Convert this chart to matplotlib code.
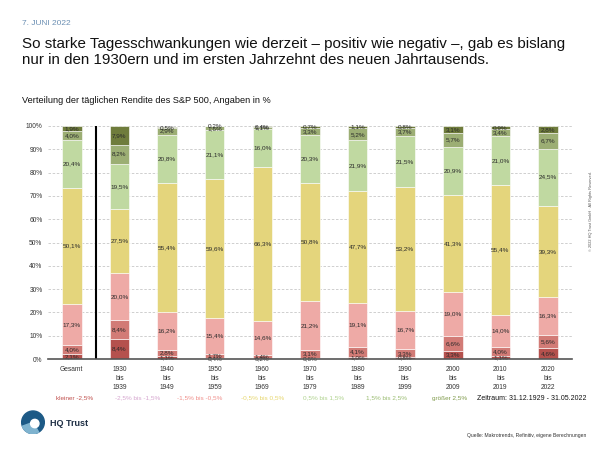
import matplotlib
matplotlib.use("Agg")
import matplotlib.pyplot as plt
import numpy as np
from matplotlib.patches import Circle, Wedge

plt.rcParams['font.family'] = ['Liberation Sans', 'DejaVu Sans']

categories = ["Gesamt", "1930\nbis\n1939", "1940\nbis\n1949", "1950\nbis\n1959", "1960\nbis\n1969",
              "1970\nbis\n1979", "1980\nbis\n1989", "1990\nbis\n1999", "2000\nbis\n2009",
              "2010\nbis\n2019", "2020\nbis\n2022"]
series_names = ["kleiner -2,5%", "-2,5% bis -1,5%", "-1,5% bis -0,5%", "-0,5% bis 0,5%",
                "0,5% bis 1,5%", "1,5% bis 2,5%", "größer 2,5%"]
lt_m25 = [2.1, 8.4, 1.1, 0.4, 0.2, 0.6, 1.0, 0.8, 3.3, 1.1, 4.6]
m25_m15 = [4.0, 8.4, 2.8, 1.7, 1.4, 3.1, 4.1, 3.3, 6.6, 4.0, 5.6]
m15_m05 = [17.3, 20.0, 16.2, 15.4, 14.6, 21.2, 19.1, 16.7, 19.0, 14.0, 16.3]
m05_p05 = [50.1, 27.5, 55.4, 59.6, 66.3, 50.8, 47.7, 53.2, 41.3, 55.4, 39.3]
p05_p15 = [20.4, 19.5, 20.8, 21.1, 16.0, 20.3, 21.9, 21.5, 20.9, 21.0, 24.5]
p15_p25 = [4.0, 8.2, 2.9, 1.6, 1.1, 3.3, 5.2, 3.7, 5.7, 3.4, 6.7]
gt_p25 = [1.9, 7.9, 0.5, 0.2, 0.4, 0.7, 1.1, 0.8, 3.1, 0.9, 2.8]
series = [lt_m25, m25_m15, m15_m05, m05_p05, p05_p15, p15_p25, gt_p25]

bar_colors = ["#b5514d", "#d27b76", "#eeaaa6", "#e4d57c", "#c0d9a1", "#9cae74", "#6f7c3c"]
legend_colors = ["#c0504d", "#d6a6cf", "#f0908c", "#e6d66e", "#b0d38f", "#9bbd72", "#7f9a4a"]

fig = plt.figure(figsize=(6, 4.5), dpi=100)
ax = fig.add_axes([0.08, 0.2022, 0.873, 0.5178])

x = np.arange(len(categories))
bottom = np.zeros(len(categories))
for vals, col in zip(series, bar_colors):
    vals = np.array(vals)
    ax.bar(x, vals, bottom=bottom, width=0.41, color=col, edgecolor="white", linewidth=0.4, zorder=3)
    for xi, v, b in zip(x, vals, bottom):
        ax.text(xi, b + v / 2, f"{v:.1f}%".replace(".", ","), ha="center", va="center",
                fontsize=4.6, color="#2a2a2a", zorder=4)
    bottom += vals

ax.set_xlim(-0.5, len(categories) - 0.5)
ax.set_ylim(0, 100)
ax.set_yticks(np.arange(0, 101, 10))
ax.set_yticklabels([f"{v}%" for v in range(0, 101, 10)], fontsize=4.8, color="#333333")
ax.set_xticks(x)
ax.set_xticklabels(categories, fontsize=4.8, color="#333333", linespacing=1.45, va="top")
ax.tick_params(axis="both", length=0, pad=4)
ax.tick_params(axis="x", pad=5)
ax.grid(axis="y", linestyle=(0, (3, 2)), color="#c8c8c8", linewidth=0.6, zorder=0)
for s in ["top", "right", "left"]:
    ax.spines[s].set_visible(False)
ax.spines["bottom"].set_color("#555555")
ax.spines["bottom"].set_linewidth(1.2)
ax.spines["bottom"].set_zorder(5)
ax.axvline(0.5, color="black", linewidth=1.5, zorder=5)

# Texts
fig.text(0.037, 0.948, "7. JUNI 2022", fontsize=6.0, color="#6b8fb3", va="center")
fig.text(0.037, 0.885, "So starke Tagesschwankungen wie derzeit – positiv wie negativ –, gab es bislang\n"
         "nur in den 1930ern und im ersten Jahrzehnt des neuen Jahrtausends.",
         fontsize=10.9, color="#111111", va="center", linespacing=1.2)
fig.text(0.037, 0.777, "Verteilung der täglichen Rendite des S&P 500, Angaben in %", fontsize=6.6,
         color="#111111", va="center")

leg_x = [0.125, 0.229, 0.333, 0.438, 0.54, 0.645, 0.75]
for lx, name, col in zip(leg_x, series_names, legend_colors):
    fig.text(lx, 0.115, name, fontsize=4.6, color=col, ha="center", va="center")
fig.text(0.977, 0.115, "Zeitraum: 31.12.1929 - 31.05.2022", fontsize=5.0, color="#111111",
         ha="right", va="center")

fig.text(0.985, 0.53, "© 2022 HQ Trust GmbH · All Rights Reserved.", fontsize=2.8, color="#555555",
         rotation=90, ha="center", va="center")
fig.text(0.978, 0.033, "Quelle: Makrotrends, Refinitiv, eigene Berechnungen", fontsize=3.6,
         color="#333333", ha="right", va="center")

# Logo
lax = fig.add_axes([0.035, 0.035, 0.04, 0.053])
lax.set_xlim(-1, 1)
lax.set_ylim(-1, 1)
lax.set_aspect("equal")
lax.axis("off")
lax.add_patch(Circle((0, 0), 0.95, color="#1d5a86"))
lax.add_patch(Wedge((0, 0), 0.95, 200, 300, color="#7fb3cf"))
lax.add_patch(Circle((0.15, -0.1), 0.35, color="white"))
fig.text(0.083, 0.06, "HQ Trust", fontsize=6.5, fontweight="bold", color="#1f2f45", va="center")

fig.savefig("out.png", dpi=100)
